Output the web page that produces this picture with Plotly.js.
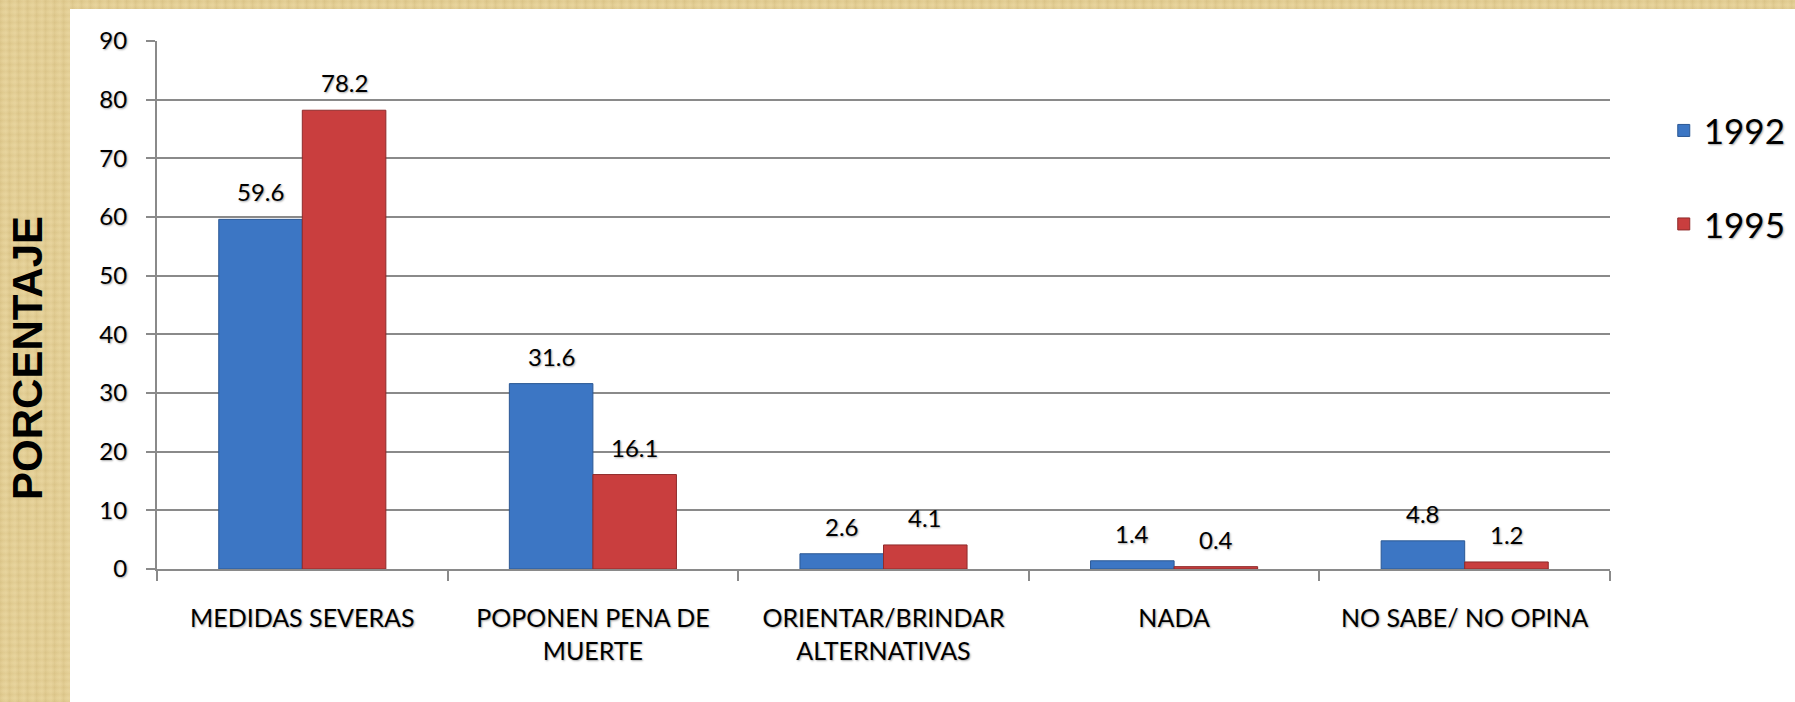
<!DOCTYPE html>
<html>
<head>
<meta charset="utf-8">
<script src="https://cdn.plot.ly/plotly-3.0.1.min.js"></script>
<style>
  html, body { margin: 0; padding: 0; width: 1795px; height: 702px; overflow: hidden; }
  body {
    background-color: #e4cf95;
    background-image:
      repeating-linear-gradient(90deg, rgba(160,130,60,0.10) 0px, rgba(160,130,60,0.0) 3px, rgba(255,240,200,0.10) 6px, rgba(160,130,60,0.06) 9px),
      repeating-linear-gradient(0deg, rgba(160,130,60,0.08) 0px, rgba(255,245,210,0.08) 4px, rgba(160,130,60,0.05) 7px);
  }
  #panel { position: absolute; left: 70px; top: 9px; right: 0; bottom: 0; background: #ffffff; }
  #chart { position: absolute; left: 0; top: 0; width: 1795px; height: 702px; }
</style>
</head>
<body>
<div id="panel"></div>
<div id="chart"></div>
<script>
const categories = ["MEDIDAS SEVERAS", "POPONEN PENA DE<br>MUERTE", "ORIENTAR/BRINDAR<br>ALTERNATIVAS", "NADA", "NO SABE/ NO OPINA"];
const values1992 = [59.6, 31.6, 2.6, 1.4, 4.8];
const values1995 = [78.2, 16.1, 4.1, 0.4, 1.2];
const seriesNames = ["1992", "1995"];
const yTickVals = [0, 10, 20, 30, 40, 50, 60, 70, 80, 90];
const yTitle = "PORCENTAJE";

const shadow = "1px 1px 2px rgba(0,0,0,0.35)";
const fontFam = "Lato, 'Open Sans', sans-serif";
const labelFont = {family: fontFam, size: 24, color: "#000000", shadow: shadow};

const traces = [
  {
    type: "bar", name: seriesNames[0], x: categories, y: values1992,
    marker: {color: "#3c76c4", line: {color: "#2b5894", width: 1}},
    legendgroup: "a", hoverinfo: "x+y"
  },
  {
    type: "bar", name: seriesNames[1], x: categories, y: values1995,
    marker: {color: "#c93e3e", line: {color: "#8f2b2b", width: 1}},
    legendgroup: "b", hoverinfo: "x+y"
  }
];

// value labels placed above each bar (grouped: half a bar width left / right of the category centre)
const halfBar = 41.8;
const annotations = [];
[values1992, values1995].forEach((vals, s) => {
  vals.forEach((v, i) => {
    annotations.push({
      x: categories[i], y: v, xref: "x", yref: "y",
      text: v.toFixed(1), showarrow: false,
      xanchor: "center", yanchor: "bottom",
      xshift: s === 0 ? -halfBar : halfBar, yshift: 11,
      font: labelFont
    });
  });
});
annotations.push({
  text: yTitle, xref: "paper", yref: "paper", x: -0.0887, y: 0.40,
  xanchor: "center", yanchor: "middle", textangle: -90, showarrow: false,
  font: {family: "'Liberation Sans', Arial, sans-serif", size: 42, color: "#000000", weight: "bold"}
});

const layout = {
  width: 1795, height: 702,
  paper_bgcolor: "rgba(0,0,0,0)",
  plot_bgcolor: "rgba(0,0,0,0)",
  margin: {l: 157, r: 185, t: 41, b: 133, autoexpand: false},
  barmode: "group",
  bargap: 0.425,
  bargroupgap: 0,
  showlegend: true,
  legend: {
    x: 1.037, xanchor: "left", y: 0.886, yanchor: "top",
    traceorder: "grouped", tracegroupgap: 45,
    font: {family: fontFam, size: 35, color: "#000000", shadow: shadow},
    bgcolor: "rgba(0,0,0,0)"
  },
  annotations: annotations,
  xaxis: {
    type: "category",
    showline: true, linecolor: "#8a8a8a", linewidth: 2,
    ticks: "outside", tickson: "boundaries", ticklen: 10, tickcolor: "#8a8a8a", tickwidth: 2,
    ticklabelstandoff: 26,
    tickfont: {family: fontFam, size: 25, color: "#000000", shadow: shadow},
    showgrid: false, zeroline: false, fixedrange: true
  },
  yaxis: {
    range: [0, 90], tickvals: yTickVals, ticktext: yTickVals.map(String),
    showline: true, linecolor: "#8a8a8a", linewidth: 2,
    ticks: "outside", ticklen: 9, tickcolor: "#8a8a8a", tickwidth: 2,
    ticklabelstandoff: 14,
    tickfont: {family: fontFam, size: 24, color: "#000000", shadow: shadow},
    showgrid: true, gridcolor: "#8a8a8a", gridwidth: 2,
    zeroline: false, fixedrange: true
  }
};

Plotly.newPlot("chart", traces, layout, {displayModeBar: false, staticPlot: true});
</script>
</body>
</html>
